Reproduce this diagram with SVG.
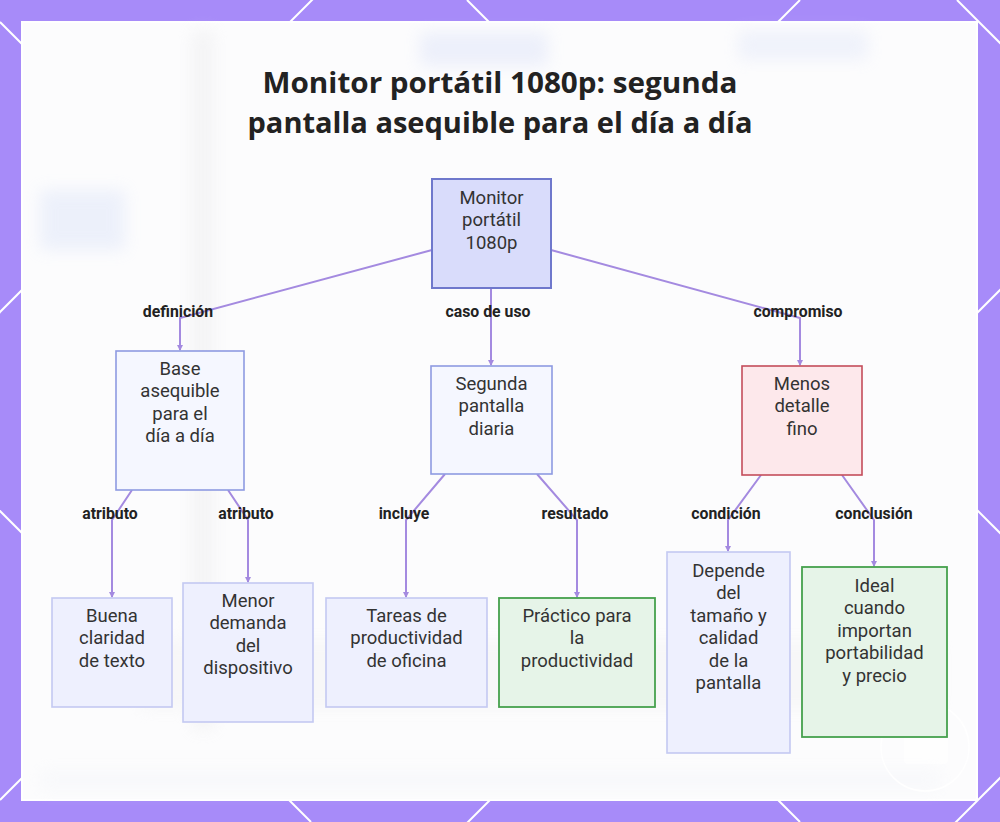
<svg xmlns="http://www.w3.org/2000/svg" width="1000" height="822" viewBox="0 0 1000 822">
<defs>
<style>
.frame-line{stroke:#ffffff;stroke-width:2;fill:none}
.title{font-family:"Open Sans","Liberation Sans",sans-serif;font-weight:700;font-size:29.3px;fill:#222222;text-anchor:middle}
.nt{font-family:Roboto,"Liberation Sans",sans-serif;font-size:18.5px;fill:#333333;text-anchor:middle}
.lbl{font-family:Roboto,"Liberation Sans",sans-serif;font-weight:700;font-size:15.8px;fill:#222222;text-anchor:middle}
.edge{stroke:#a48ae0;stroke-width:2;fill:none}
.root{fill:#d9dcfb;stroke:#6f78cc;stroke-width:2}
.mid{fill:#f5f7ff;stroke:#8e9ae2;stroke-width:1.6}
.leaf{fill:#eef0fe;stroke:#c3c9f2;stroke-width:1.6}
.warn{fill:#fde8eb;stroke:#c44d5b;stroke-width:1.6}
.good{fill:#e6f4e8;stroke:#45a14d;stroke-width:1.8}
</style>
<marker id="arr" markerWidth="6" markerHeight="6" refX="5" refY="3" orient="auto" markerUnits="userSpaceOnUse">
<path d="M0,0 L6,3 L0,6 z" fill="#a48ae0"/>
</marker>
<filter id="blur" x="-50%" y="-50%" width="200%" height="200%"><feGaussianBlur stdDeviation="8"/></filter>
</defs>

<!-- frame -->
<rect x="0" y="0" width="1000" height="822" fill="#a78bf9"/>
<g class="frame-line">
<line x1="-200" y1="512" x2="512" y2="-200"/>
<line x1="0" y1="800" x2="800" y2="0"/>
<line x1="300" y1="990" x2="1290" y2="0"/>
<line x1="780" y1="998" x2="1778" y2="0"/>
<line x1="0" y1="22" x2="800" y2="822"/>
<line x1="467" y1="0" x2="1289" y2="822"/>
<line x1="957" y1="0" x2="1779" y2="822"/>
<line x1="-511" y1="0" x2="311" y2="822"/>
</g>

<!-- panel -->
<rect x="22" y="22" width="955" height="778" fill="#fcfcfd" stroke="#ffffff" stroke-width="2"/>
<g filter="url(#blur)" opacity="0.3">
<rect x="192" y="30" width="22" height="700" fill="#e2e2e4"/>
<rect x="420" y="32" width="128" height="34" fill="#c9d3f5"/>
<rect x="738" y="30" width="130" height="30" fill="#d3dcf7"/>
<rect x="40" y="190" width="85" height="60" fill="#c9d6f5"/>
<rect x="140" y="640" width="800" height="70" fill="#ececee"/>
<rect x="40" y="770" width="900" height="20" fill="#eef1f7"/>
</g>
<circle cx="925" cy="747" r="44" fill="none" stroke="#ffffff" stroke-width="1.5" opacity="0.9"/>
<rect x="904" y="730" width="44" height="34" rx="4" fill="#ffffff" opacity="0.6"/>

<!-- title -->
<text class="title" x="500" y="93" textLength="475" lengthAdjust="spacingAndGlyphs">Monitor portátil 1080p: segunda</text>
<text class="title" x="500" y="133" textLength="505" lengthAdjust="spacingAndGlyphs">pantalla asequible para el día a día</text>

<!-- connectors -->
<g id="connectors">
<polyline class="edge" points="432,250 180,318 180,350" marker-end="url(#arr)"/>
<polyline class="edge" points="491,288 491,365" marker-end="url(#arr)"/>
<polyline class="edge" points="551,250 800,318 800,365" marker-end="url(#arr)"/>
<polyline class="edge" points="132,490 112,520 112,597" marker-end="url(#arr)"/>
<polyline class="edge" points="228,490 248,520 248,582" marker-end="url(#arr)"/>
<polyline class="edge" points="445,474 406,520 406,597" marker-end="url(#arr)"/>
<polyline class="edge" points="537,474 577,520 577,597" marker-end="url(#arr)"/>
<polyline class="edge" points="761,475 728,520 728,551" marker-end="url(#arr)"/>
<polyline class="edge" points="842,475 874,520 874,566" marker-end="url(#arr)"/>
<text class="lbl" x="178" y="316.5">definición</text>
<text class="lbl" x="488" y="316.5">caso de uso</text>
<text class="lbl" x="798" y="316.5">compromiso</text>
<text class="lbl" x="110" y="518.5">atributo</text>
<text class="lbl" x="246" y="518.5">atributo</text>
<text class="lbl" x="404" y="518.5">incluye</text>
<text class="lbl" x="575" y="518.5">resultado</text>
<text class="lbl" x="726" y="518.5">condición</text>
<text class="lbl" x="874" y="518.5">conclusión</text>
</g>

<!-- nodes -->
<g id="n-root">
<rect class="root" x="432" y="179" width="119" height="109"/>
<text class="nt" x="491.5" y="203.5">Monitor</text>
<text class="nt" x="491.5" y="226">portátil</text>
<text class="nt" x="491.5" y="248.5">1080p</text>
</g>
<g id="n-base">
<rect class="mid" x="116" y="351" width="128" height="139"/>
<text class="nt" x="180" y="374.5">Base</text>
<text class="nt" x="180" y="397">asequible</text>
<text class="nt" x="180" y="419.5">para el</text>
<text class="nt" x="180" y="442">día a día</text>
</g>
<g id="n-segunda">
<rect class="mid" x="431" y="366" width="121" height="108"/>
<text class="nt" x="491.5" y="389.5">Segunda</text>
<text class="nt" x="491.5" y="412">pantalla</text>
<text class="nt" x="491.5" y="434.5">diaria</text>
</g>
<g id="n-menos">
<rect class="warn" x="742" y="366" width="120" height="109"/>
<text class="nt" x="802" y="389.5">Menos</text>
<text class="nt" x="802" y="412">detalle</text>
<text class="nt" x="802" y="434.5">fino</text>
</g>
<g id="n-buena">
<rect class="leaf" x="52" y="598" width="120" height="109"/>
<text class="nt" x="112" y="621.5">Buena</text>
<text class="nt" x="112" y="644">claridad</text>
<text class="nt" x="112" y="666.5">de texto</text>
</g>
<g id="n-menor">
<rect class="leaf" x="183" y="583" width="130" height="139"/>
<text class="nt" x="248" y="606.5">Menor</text>
<text class="nt" x="248" y="629">demanda</text>
<text class="nt" x="248" y="651.5">del</text>
<text class="nt" x="248" y="674">dispositivo</text>
</g>
<g id="n-tareas">
<rect class="leaf" x="326" y="598" width="161" height="109"/>
<text class="nt" x="406.5" y="621.5">Tareas de</text>
<text class="nt" x="406.5" y="644">productividad</text>
<text class="nt" x="406.5" y="666.5">de oficina</text>
</g>
<g id="n-practico">
<rect class="good" x="499" y="598" width="156" height="109"/>
<text class="nt" x="577" y="621.5">Práctico para</text>
<text class="nt" x="577" y="644">la</text>
<text class="nt" x="577" y="666.5">productividad</text>
</g>
<g id="n-depende">
<rect class="leaf" x="667" y="552" width="123" height="201"/>
<text class="nt" x="728.5" y="576.5">Depende</text>
<text class="nt" x="728.5" y="599">del</text>
<text class="nt" x="728.5" y="621.5">tamaño y</text>
<text class="nt" x="728.5" y="644">calidad</text>
<text class="nt" x="728.5" y="666.5">de la</text>
<text class="nt" x="728.5" y="689">pantalla</text>
</g>
<g id="n-ideal">
<rect class="good" x="802" y="567" width="145" height="170"/>
<text class="nt" x="874.5" y="591.5">Ideal</text>
<text class="nt" x="874.5" y="614">cuando</text>
<text class="nt" x="874.5" y="636.5">importan</text>
<text class="nt" x="874.5" y="659">portabilidad</text>
<text class="nt" x="874.5" y="681.5">y precio</text>
</g>
</svg>
